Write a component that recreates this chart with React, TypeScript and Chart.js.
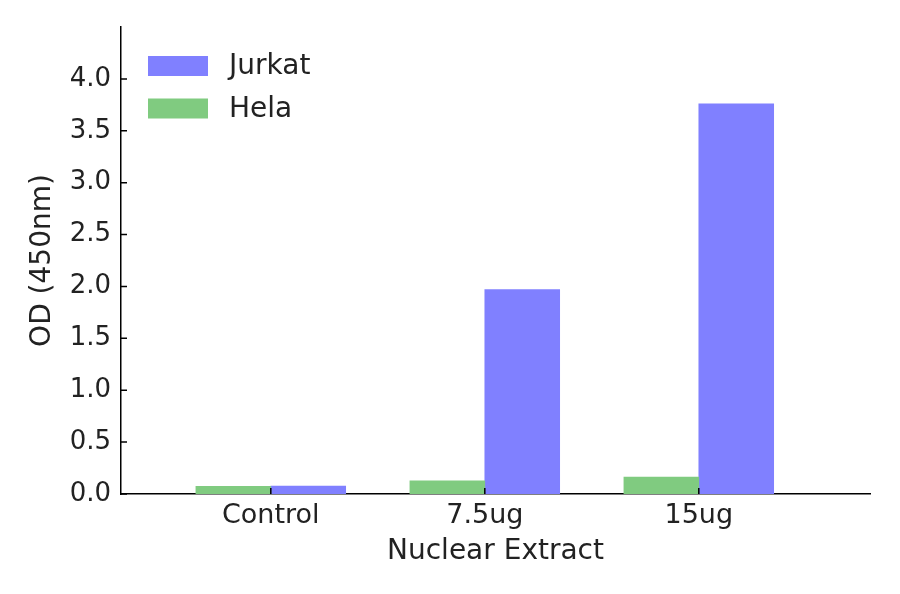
import React, { useEffect, useRef } from 'react';
import { Chart, registerables } from 'chart.js';

Chart.register(...registerables);

// Data
const categories = ['Control', '7.5ug', '15ug'];
const helaValues = [0.075, 0.128, 0.164];
const jurkatValues = [0.076, 1.97, 3.76];
const yTickValues = [0, 0.5, 1.0, 1.5, 2.0, 2.5, 3.0, 3.5, 4.0];
const seriesNames = ['Jurkat', 'Hela'];

const BAR_WIDTH = 0.35;
const JURKAT_COLOR = '#8080FF';
const HELA_COLOR = '#80CB80';
const TEXT_COLOR = '#222222';
const FONT = 'DejaVu Sans';

// matplotlib-style inward tick marks, drawn on top of the bars
const tickMarks = {
  id: 'tickMarks',
  afterDatasetsDraw(chart: Chart) {
    const { ctx, chartArea, scales } = chart;
    const len = 6;
    ctx.save();
    ctx.strokeStyle = '#000';
    ctx.lineWidth = 1.5;
    ctx.beginPath();
    scales.y.ticks.forEach((t) => {
      const y = scales.y.getPixelForValue(t.value);
      ctx.moveTo(chartArea.left, y);
      ctx.lineTo(chartArea.left + len, y);
    });
    scales.x.ticks.forEach((t) => {
      const x = scales.x.getPixelForValue(t.value);
      ctx.moveTo(x, chartArea.bottom);
      ctx.lineTo(x, chartArea.bottom - len);
    });
    ctx.stroke();
    ctx.restore();
  },
};

// legend inside the axes, upper left, stacked vertically
const innerLegend = {
  id: 'innerLegend',
  afterDraw(chart: Chart) {
    const { ctx, chartArea } = chart;
    const colors = [JURKAT_COLOR, HELA_COLOR];
    ctx.save();
    ctx.font = `28px "${FONT}"`;
    ctx.textBaseline = 'middle';
    seriesNames.forEach((name, i) => {
      const top = chartArea.top + 29 + i * 42.5;
      ctx.fillStyle = colors[i];
      ctx.fillRect(chartArea.left + 27, top, 60, 20);
      ctx.fillStyle = TEXT_COLOR;
      ctx.fillText(name, chartArea.left + 108, top + 11);
    });
    ctx.restore();
  },
};

const App: React.FC = () => {
  const canvasRef = useRef<HTMLCanvasElement | null>(null);

  useEffect(() => {
    document.body.style.margin = '0';
    if (!canvasRef.current) return;
    const ctx = canvasRef.current.getContext('2d');
    if (!ctx) return;

    const chart = new Chart(ctx, {
      type: 'bar',
      data: {
        datasets: [
          {
            label: 'Hela',
            data: helaValues.map((v, i) => ({ x: i + BAR_WIDTH / 2, y: v })),
            backgroundColor: HELA_COLOR,
            borderWidth: 0,
            grouped: false,
            barPercentage: 1,
            categoryPercentage: 1,
          },
          {
            label: 'Jurkat',
            data: jurkatValues.map((v, i) => ({ x: i + BAR_WIDTH * 1.5, y: v })),
            backgroundColor: JURKAT_COLOR,
            borderWidth: 0,
            grouped: false,
            barPercentage: 1,
            categoryPercentage: 1,
          },
        ],
      },
      options: {
        animation: false,
        responsive: true,
        maintainAspectRatio: false,
        layout: { padding: { top: 27, right: 30, left: 0, bottom: 0 } },
        plugins: {
          legend: { display: false },
          tooltip: { enabled: false },
        },
        scales: {
          x: {
            type: 'linear',
            offset: false,
            min: -BAR_WIDTH,
            max: 3.15,
            z: 1,
            grid: { display: false, drawTicks: false },
            border: { display: true, color: '#000', width: 1.5 },
            afterBuildTicks: (scale: any) => {
              scale.ticks = categories.map((_, i) => ({ value: i + BAR_WIDTH }));
            },
            afterFit: (scale: any) => {
              scale.height = 100;
            },
            ticks: {
              autoSkip: false,
              maxRotation: 0,
              padding: 6,
              color: TEXT_COLOR,
              font: { family: FONT, size: 27 },
              callback: (_v: any, index: number) => categories[index],
            },
            title: {
              display: true,
              text: 'Nuclear Extract',
              color: TEXT_COLOR,
              font: { family: FONT, size: 28 },
              padding: { top: 0, bottom: 25 },
            },
          },
          y: {
            min: 0,
            max: 4.5,
            grid: { display: false, drawTicks: false },
            border: { display: true, color: '#000', width: 1.5 },
            afterBuildTicks: (scale: any) => {
              scale.ticks = yTickValues.map((v) => ({ value: v }));
            },
            afterFit: (scale: any) => {
              scale.width = 121;
            },
            ticks: {
              padding: 10,
              color: TEXT_COLOR,
              font: { family: FONT, size: 26 },
              callback: (v: any) => Number(v).toFixed(1),
            },
            title: {
              display: true,
              text: 'OD (450nm)',
              color: TEXT_COLOR,
              font: { family: FONT, size: 28 },
              padding: { top: 26, bottom: 0 },
            },
          },
        },
      },
      plugins: [tickMarks, innerLegend],
    });

    return () => {
      chart.destroy();
    };
  }, []);

  return (
    <div style={{ position: 'relative', width: 900, height: 594, background: '#fff' }}>
      <canvas ref={canvasRef} />
    </div>
  );
};

export default App;
